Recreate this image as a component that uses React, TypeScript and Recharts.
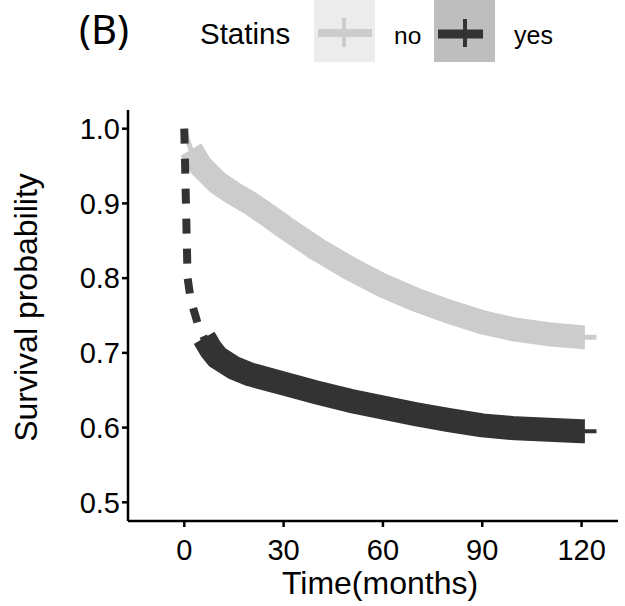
import React from 'react';
import { ComposedChart, Line, XAxis, YAxis, Legend } from 'recharts';

// Kaplan-Meier estimates (time in months)
const TIME_NO = [0, 1, 2, 5, 10, 15, 20, 25, 30, 40, 50, 60, 70, 80, 90, 100, 110, 120, 121, 124.5];
const SURV_NO = [1.0, 0.985, 0.972, 0.95, 0.928, 0.913, 0.9, 0.885, 0.869, 0.839, 0.813, 0.79, 0.771, 0.755, 0.741, 0.731, 0.725, 0.721, 0.721, 0.721];

const TIME_YES = [0, 0.5, 1, 2, 4, 6, 8, 10, 15, 20, 30, 40, 50, 60, 70, 80, 90, 100, 110, 120, 121, 124.5];
const SURV_YES = [1.0, 0.9, 0.8, 0.77, 0.74, 0.72, 0.705, 0.694, 0.68, 0.671, 0.659, 0.647, 0.636, 0.627, 0.618, 0.61, 0.603, 0.599, 0.597, 0.595, 0.595, 0.595];

const X_TICKS = [0, 30, 60, 90, 120];
const Y_TICKS = [0.5, 0.6, 0.7, 0.8, 0.9, 1.0];

const COLOR_NO = '#cccccc';
const COLOR_YES = '#333333';
const FONT = '"Liberation Sans", Arial, sans-serif';

const toPoints = (times: number[], surv: number[]) => times.map((t, i) => ({ t, s: surv[i] }));
const between = (pts: { t: number; s: number }[], lo: number, hi: number) =>
  pts.filter((p) => p.t >= lo && p.t <= hi);

const noPts = toPoints(TIME_NO, SURV_NO);
const yesPts = toPoints(TIME_YES, SURV_YES);

const renderLegend = () => (
  <svg width={625} height={70}>
    <text x={104} y={44} textAnchor="middle" fontFamily='"Noto Sans", sans-serif' fontSize={40} fill="#000">
      (B)
    </text>
    <text x={200} y={44} fontFamily={FONT} fontSize={29.5} fill="#000">Statins</text>
    <rect x={314} y={0} width={61} height={62} fill="#ececec" />
    <line x1={318} x2={372} y1={33} y2={33} stroke={COLOR_NO} strokeWidth={8} />
    <line x1={344} x2={344} y1={18} y2={47} stroke={COLOR_NO} strokeWidth={4} />
    <text x={394} y={44} fontFamily={FONT} fontSize={24.5} fill="#000">no</text>
    <rect x={434} y={0} width={61} height={62} fill="#bebebe" />
    <line x1={438} x2={483} y1={34} y2={34} stroke={COLOR_YES} strokeWidth={9} />
    <line x1={465} x2={465} y1={19} y2={47} stroke={COLOR_YES} strokeWidth={4} />
    <text x={514} y={44} fontFamily={FONT} fontSize={25} fill="#000">yes</text>
  </svg>
);

const axisLine = { stroke: '#000', strokeWidth: 2.5 };
const tickStyle = { fill: '#000', fontSize: 29, fontFamily: FONT };
const titleStyle = { fill: '#000', fontSize: 32, fontFamily: FONT };

export default function App() {
  return (
    <div style={{ position: 'absolute', left: 0, top: 0, width: 625, height: 606, background: '#fff' }}>
      <ComposedChart width={625} height={606} margin={{ top: 110, right: 7, bottom: 0, left: 0 }}>
        <XAxis
          type="number"
          dataKey="t"
          domain={[-17, 131]}
          ticks={X_TICKS}
          allowDataOverflow
          height={85}
          axisLine={axisLine}
          tickLine={axisLine}
          tickSize={6}
          tickMargin={12}
          tick={tickStyle}
          label={{ value: 'Time(months)', position: 'insideBottom', offset: 12, dx: 7, style: { ...titleStyle, textAnchor: 'middle' } }}
        />
        <YAxis
          type="number"
          domain={[0.475, 1.025]}
          ticks={Y_TICKS}
          allowDataOverflow
          width={128}
          axisLine={axisLine}
          tickLine={axisLine}
          tickSize={6}
          tickMargin={2}
          tick={tickStyle}
          tickFormatter={(v: number) => v.toFixed(1)}
          label={{ value: 'Survival probability', angle: -90, position: 'insideLeft', offset: 26, dy: -8, style: { ...titleStyle, textAnchor: 'middle' } }}
        />
        <Legend
          layout="horizontal"
          verticalAlign="middle"
          align="center"
          content={renderLegend}
          wrapperStyle={{ position: 'absolute', top: 0, left: 0, width: 625, height: 70 }}
        />
        <Line data={noPts} dataKey="s" stroke={COLOR_NO} strokeWidth={5} dot={false} activeDot={false} isAnimationActive={false} />
        <Line data={between(noPts, 2, 121)} dataKey="s" stroke={COLOR_NO} strokeWidth={24} strokeLinecap="butt" strokeLinejoin="round" dot={false} activeDot={false} isAnimationActive={false} />
        <Line data={between(yesPts, 6, 125)} dataKey="s" stroke={COLOR_YES} strokeWidth={4} dot={false} activeDot={false} isAnimationActive={false} />
        <Line data={between(yesPts, 6, 121)} dataKey="s" stroke={COLOR_YES} strokeWidth={24} strokeLinecap="butt" strokeLinejoin="round" dot={false} activeDot={false} isAnimationActive={false} />
        <Line data={between(yesPts, 0, 8)} dataKey="s" stroke={COLOR_YES} strokeWidth={8} strokeDasharray="15 15" strokeLinecap="butt" dot={false} activeDot={false} isAnimationActive={false} />
      </ComposedChart>
    </div>
  );
}
